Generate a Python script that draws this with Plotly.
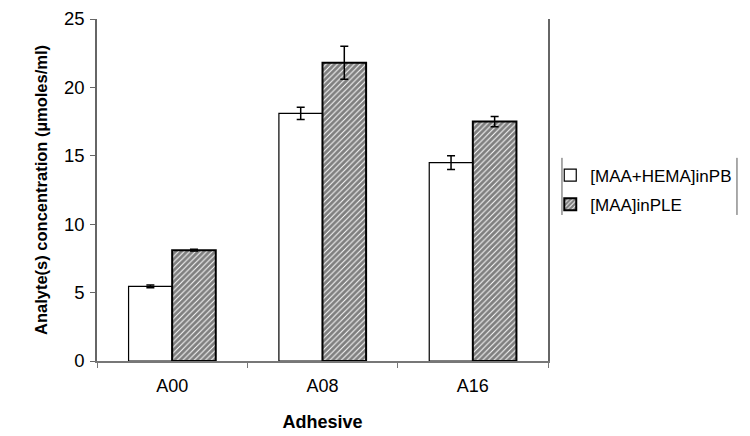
import plotly.graph_objects as go

adhesives = ['A00', 'A08', 'A16']
maa_hema_pb = [5.45, 18.1, 14.5]
maa_hema_pb_err = [0.1, 0.45, 0.5]
maa_ple = [8.1, 21.8, 17.5]
maa_ple_err = [0.06, 1.2, 0.38]

fig = go.Figure()
fig.add_trace(go.Bar(
    x=adhesives, y=maa_hema_pb, name='[MAA+HEMA]inPB', legendgroup='a',
    marker=dict(color='white', line=dict(color='black', width=1.2)),
    error_y=dict(type='data', array=maa_hema_pb_err, color='black',
                 thickness=1.5, width=4),
))
fig.add_trace(go.Bar(
    x=adhesives, y=maa_ple, name='[MAA]inPLE', legendgroup='b',
    marker=dict(color='white', line=dict(color='black', width=2),
                pattern=dict(shape='/', fgcolor='black', bgcolor='white',
                             size=4, solidity=0.75)),
    error_y=dict(type='data', array=maa_ple_err, color='black',
                 thickness=1.5, width=4),
))

# legend frame: only left and right sides
for xv in (1.031, 1.419):
    fig.add_shape(type='line', xref='paper', yref='paper',
                  x0=xv, x1=xv, y0=0.427, y1=0.594,
                  line=dict(color='#555555', width=1))

# page body adds an 8px margin, so the figure is a bit smaller than the window
fig.update_layout(
    width=742, height=433,
    margin=dict(l=89, r=202, t=11, b=80),
    paper_bgcolor='white', plot_bgcolor='white',
    font=dict(family='Arial, Liberation Sans, sans-serif', color='black', size=17),
    barmode='group', bargap=0.42, bargroupgap=0,
    showlegend=True,
    legend=dict(x=1.005, y=0.595, xanchor='left', yanchor='top',
                font=dict(size=17), traceorder='grouped', tracegroupgap=4,
                itemwidth=30, bgcolor='rgba(0,0,0,0)'),
    xaxis=dict(
        title=dict(text='<b>Adhesive</b>', font=dict(size=18), standoff=20),
        showline=True, linecolor='#777777', linewidth=1.5,
        ticks='outside', ticklen=5, tickcolor='#777777',
        tickson='boundaries', showgrid=False, tickfont=dict(size=18),
        ticklabelstandoff=8, automargin=False,
    ),
    yaxis=dict(
        title=dict(text='<b>Analyte(s) concentration (µmoles/ml)</b>',
                   font=dict(size=16.5), standoff=12),
        range=[0, 25], dtick=5,
        showline=True, linecolor='#666666', linewidth=1.5, mirror=True,
        ticks='outside', ticklen=5, tickcolor='#666666',
        showgrid=False, zeroline=False, tickfont=dict(size=18.5),
        ticklabelstandoff=2, ticklabeloverflow='allow', automargin=False,
    ),
)

fig.write_html('out.html')
